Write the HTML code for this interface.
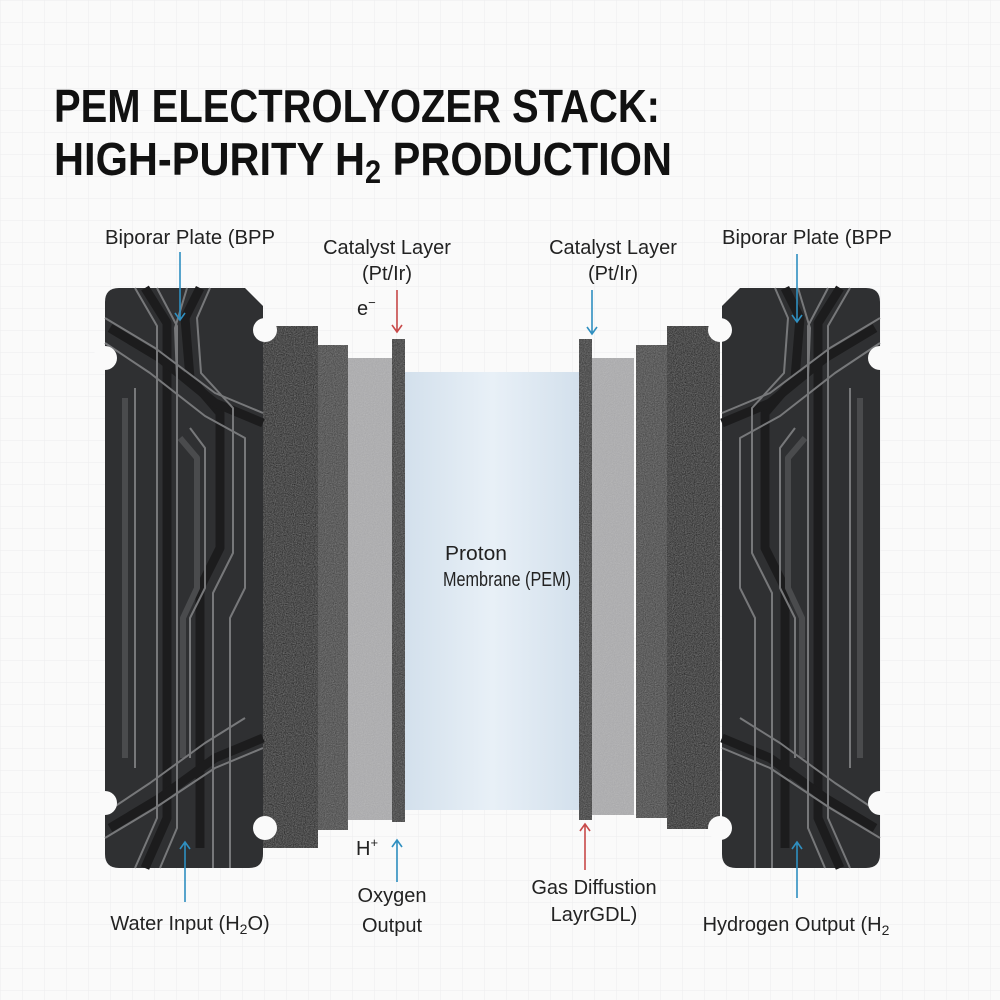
<!DOCTYPE html>
<html><head><meta charset="utf-8"><style>
html,body{margin:0;padding:0;background:#fafafa}
svg{display:block}
text{font-family:"Liberation Sans",sans-serif}
</style></head><body>
<svg width="1000" height="1000" viewBox="0 0 1000 1000" xmlns="http://www.w3.org/2000/svg">
<defs>
<pattern id="grid" width="22" height="22" patternUnits="userSpaceOnUse">
<path d="M22 0H0V22" fill="none" stroke="#ececee" stroke-width="1"/>
</pattern>
<filter id="noise" x="0" y="0" width="100%" height="100%">
<feTurbulence type="fractalNoise" baseFrequency="0.9" numOctaves="2" seed="3"/>
<feColorMatrix type="saturate" values="0"/>
<feComponentTransfer><feFuncA type="table" tableValues="0 0.3"/></feComponentTransfer>
<feComposite in2="SourceGraphic" operator="in"/>
<feBlend in="SourceGraphic" mode="screen"/>
</filter>
<linearGradient id="mem" x1="0" x2="1"><stop offset="0" stop-color="#d3e0ec"/><stop offset="0.5" stop-color="#e8f0f7"/><stop offset="1" stop-color="#d3e0ec"/></linearGradient>
<g id="plate">
<path d="M14,0 H140 L158,18 V566 Q158,580 144,580 H14 Q0,580 0,566 V14 Q0,0 14,0Z" fill="#2f3032"/>
<g fill="none" stroke-linejoin="round">
<g stroke="#1c1c1d" stroke-width="9">
<path d="M40,0 L62,35 L62,530 L40,580"/>
<path d="M95,0 L80,30 L85,90 L115,125 L115,260 L95,300 L95,560"/>
<path d="M5,40 L55,70 L110,115 L158,135"/>
<path d="M5,540 L55,510 L110,470 L158,450"/>
</g>
<g stroke="#4a4b4d" stroke-width="6">
<path d="M75,150 L92,170 L92,300 L78,330 L78,470"/>
<path d="M20,110 L20,470"/>
</g>
<g stroke="#77787a" stroke-width="2">
<path d="M30,0 L52,38 L52,530 L30,580"/>
<path d="M52,0 L72,38 L72,540 L55,580"/>
<path d="M105,0 L92,30 L96,85 L128,120 L128,265 L108,305 L108,580"/>
<path d="M82,0 L70,40 L72,90"/>
<path d="M0,30 L50,60 L110,105 L158,125"/>
<path d="M0,55 L45,85 L100,128 L140,150 L140,300 L125,330 L125,580"/>
<path d="M0,550 L50,520 L110,480 L158,460"/>
<path d="M0,525 L45,495 L100,455 L140,430"/>
<path d="M85,140 L100,160 L100,300 L85,330 L85,470"/>
<path d="M30,100 L30,480"/>
</g>
</g>
<circle cx="0" cy="70" r="12" fill="#fafafa"/>
<circle cx="160" cy="42" r="12" fill="#fafafa"/>
<circle cx="160" cy="540" r="12" fill="#fafafa"/>
<circle cx="0" cy="515" r="12" fill="#fafafa"/>
</g>
</defs>
<rect width="1000" height="1000" fill="#fafafa"/>
<rect width="1000" height="1000" fill="url(#grid)"/>

<text x="54" y="122" font-size="46" font-weight="bold" fill="#111" textLength="606" lengthAdjust="spacingAndGlyphs">PEM ELECTROLYOZER STACK:</text>
<text x="54" y="175" font-size="46" font-weight="bold" fill="#111" textLength="618" lengthAdjust="spacingAndGlyphs">HIGH-PURITY H<tspan font-size="32" dy="8">2</tspan><tspan dy="-8"> PRODUCTION</tspan></text>

<rect x="405" y="372" width="175" height="438" fill="url(#mem)"/>

<g filter="url(#noise)">
<rect x="263" y="326" width="55" height="522" fill="#111"/>
<rect x="318" y="345" width="30" height="485" fill="#3c3c3c"/>
<rect x="348" y="358" width="44" height="462" fill="#a6a6a8"/>
<rect x="392" y="339" width="13" height="483" fill="#2a2a2a"/>
<rect x="667" y="326" width="53" height="503" fill="#111"/>
<rect x="636" y="345" width="31" height="473" fill="#3c3c3c"/>
<rect x="592" y="358" width="42" height="457" fill="#a6a6a8"/>
<rect x="579" y="339" width="13" height="481" fill="#2a2a2a"/>
</g>

<use href="#plate" transform="translate(105,288)"/>
<use href="#plate" transform="translate(880,288) scale(-1,1)"/>

<g font-size="20" fill="#222">
<text x="105" y="244" textLength="170" lengthAdjust="spacingAndGlyphs">Biporar Plate (BPP</text>
<text x="722" y="244" textLength="170" lengthAdjust="spacingAndGlyphs">Biporar Plate (BPP</text>
<text x="387" y="254" text-anchor="middle">Catalyst Layer</text>
<text x="387" y="280" text-anchor="middle">(Pt/Ir)</text>
<text x="613" y="254" text-anchor="middle">Catalyst Layer</text>
<text x="613" y="280" text-anchor="middle">(Pt/Ir)</text>
<text x="357" y="315">e<tspan font-size="13" dy="-8">−</tspan></text>
<text x="356" y="855">H<tspan font-size="13" dy="-8">+</tspan></text>
<text x="445" y="560" textLength="62" lengthAdjust="spacingAndGlyphs">Proton</text>
<text x="443" y="586" textLength="128" lengthAdjust="spacingAndGlyphs">Membrane (PEM)</text>
<text x="392" y="902" text-anchor="middle">Oxygen</text>
<text x="392" y="932" text-anchor="middle">Output</text>
<text x="594" y="894" text-anchor="middle">Gas Diffustion</text>
<text x="594" y="921" text-anchor="middle">LayrGDL)</text>
<text x="190" y="930" text-anchor="middle">Water Input (H<tspan font-size="14" dy="4">2</tspan><tspan dy="-4">O)</tspan></text>
<text x="796" y="931" text-anchor="middle">Hydrogen Output (H<tspan font-size="14" dy="4">2</tspan></text>
</g>

<g fill="none" stroke-width="1.6">
<g stroke="#2f8fc0">
<path d="M180,252V320M175,313L180,320L185,313"/>
<path d="M797,254V322M792,315L797,322L802,315"/>
<path d="M592,290V334M587,327L592,334L597,327"/>
<path d="M397,882V840M392,847L397,840L402,847"/>
<path d="M185,902V842M180,849L185,842L190,849"/>
<path d="M797,898V842M792,849L797,842L802,849"/>
</g>
<g stroke="#c84a4a">
<path d="M397,290V332M392,325L397,332L402,325"/>
<path d="M585,870V824M580,831L585,824L590,831"/>
</g>
</g>
</svg>
</body></html>
